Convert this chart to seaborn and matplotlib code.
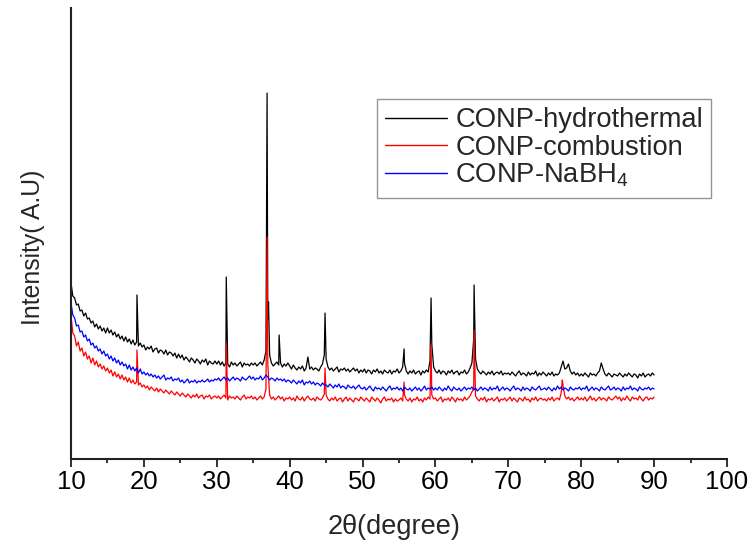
import numpy as np
import pandas as pd
import matplotlib
matplotlib.use("Agg")
import matplotlib.pyplot as plt
import seaborn as sns
from matplotlib.ticker import MultipleLocator

# ---- data (intensity in arbitrary units) ----
samples = ["CONP-hydrothermal", "CONP-combustion", "CONP-NaBH$_4$"]
colors = ["#000000", "#ff0000", "#0000ff"]

scan_start = 10.0
scan_step = 0.25   # degrees between recorded points, 10..90

hydro_scan = [
    176,163,161,154,155,148,149,143,146,140,141,136,138,132,135,130,133,128,131,126,
    131,126,129,124,127,122,125,120,123,118,122,117,120,115,119,114,117,113,116,112,
    114,109,112,110,113,107,110,111,106,109,108,105,109,104,107,106,103,106,101,105,
    101,104,99,102,100,97,101,99,96,100,98,95,99,97,100,94,98,96,95,98,
    95,98,94,97,93,96,95,92,97,94,96,93,95,97,92,96,94,95,93,96,
    94,96,93,95,97,94,99,108,140,104,96,93,95,97,94,96,92,95,93,96,
    93,90,94,91,89,92,90,93,88,91,102,90,92,89,91,90,88,92,95,104,
    100,92,89,91,88,90,92,87,90,89,91,88,90,87,89,91,88,90,86,89,
    87,90,86,89,88,85,89,87,90,86,88,85,89,87,86,89,85,88,87,90,
    86,88,92,96,88,85,88,86,89,85,87,88,84,88,86,89,87,98,115,92,
    88,86,89,85,88,87,84,88,86,89,85,87,88,84,87,86,89,85,87,91,
    96,120,100,90,87,85,88,86,84,87,85,88,84,86,87,85,88,84,86,85,
    86,84,87,85,83,86,88,84,86,85,83,87,84,86,85,88,83,86,84,87,
    85,83,86,84,87,83,85,84,86,92,98,90,91,95,88,85,87,84,86,83,
    85,83,86,84,82,86,84,85,83,86,88,96,90,85,83,86,84,82,85,84,
    83,86,84,82,85,83,86,84,82,85,84,81,85,83,86,82,84,85,83,86,
    84,
]
hydro_peak_pos = [19.05, 31.3, 36.9, 37.1, 38.55, 44.85, 55.7, 59.4, 65.3]
hydro_peak_int = [164, 182, 366, 157, 124, 146, 110, 161, 174]

comb_scan = [
    143,126,123,113,117,108,111,103,107,100,103,96,101,94,98,92,95,90,93,88,
    91,86,89,83,87,82,85,80,84,79,82,77,81,76,79,75,77,74,76,72,
    74,71,73,69,72,70,68,71,67,70,68,66,69,67,65,68,66,64,67,65,
    63,66,64,62,65,63,61,64,62,65,61,63,64,60,63,62,64,60,62,63,
    61,63,60,62,64,61,59,63,61,62,60,63,61,59,62,64,60,62,61,63,
    60,62,59,61,63,60,62,70,95,64,60,62,59,61,63,60,62,58,61,60,
    62,59,61,58,63,60,59,62,58,61,63,60,59,61,58,62,60,59,61,65,
    64,60,58,61,59,62,58,60,61,57,60,62,58,61,59,57,61,60,58,62,
    60,58,61,59,57,62,60,58,61,59,56,60,62,58,60,59,61,57,60,58,
    59,61,58,64,60,58,61,57,60,59,62,58,60,57,61,59,62,60,64,60,
    61,58,60,62,57,60,59,61,58,62,60,57,61,59,60,58,62,59,61,63,
    67,70,63,60,58,61,59,62,57,60,59,61,58,60,62,57,60,59,61,58,
    60,62,58,61,59,57,61,60,58,62,59,60,57,61,59,62,58,60,61,59,
    60,58,61,59,62,58,60,61,59,66,74,63,60,62,59,61,58,60,62,59,
    61,59,62,58,60,63,59,61,58,60,62,59,61,60,58,62,60,59,61,63,
    60,62,58,61,59,63,60,58,62,60,61,59,63,60,58,61,62,59,61,60,
    62,
]
comb_peak_pos = [19.05, 31.3, 36.9, 44.85, 55.7, 59.4, 65.3, 77.4]
comb_peak_int = [109, 116, 222, 91, 77, 114, 129, 79]

nabh4_scan = [
    156,144,141,133,134,127,128,122,124,118,120,114,116,111,113,108,110,105,108,103,
    105,100,103,98,101,96,99,94,97,93,95,90,94,89,92,88,91,86,90,85,
    87,84,86,83,85,82,84,81,83,80,82,84,79,81,80,82,78,80,79,81,
    77,79,76,78,80,76,78,77,79,76,78,77,79,77,78,80,77,79,78,80,
    79,81,78,80,82,79,81,78,80,82,79,81,80,78,82,80,79,81,83,80,
    82,79,81,80,83,79,81,84,82,79,81,80,78,81,79,80,78,80,77,79,
    78,76,79,77,75,78,76,79,74,77,76,78,75,77,74,76,75,73,76,74,
    74,72,75,73,71,74,72,75,71,73,72,70,74,72,71,73,70,72,74,71,
    70,72,69,71,73,70,68,72,70,71,69,72,70,68,71,73,69,71,70,72,
    69,71,68,72,70,69,71,68,70,72,69,71,68,70,73,69,71,70,72,69,
    71,69,72,70,68,71,69,73,70,68,72,70,69,71,68,70,72,69,71,70,
    72,69,71,68,70,72,69,71,70,68,72,69,71,70,73,68,70,72,69,71,
    70,68,71,73,69,71,70,68,72,69,71,70,68,72,70,69,71,73,69,70,
    71,69,72,70,68,71,69,73,70,72,69,71,70,68,72,70,69,71,70,72,
    69,71,70,73,68,70,72,69,71,70,68,72,70,69,71,73,69,70,72,69,
    71,70,68,72,69,71,70,73,69,71,70,68,72,70,69,71,70,72,69,71,
    70,
]
nabh4_peak_pos = []
nabh4_peak_int = []

x_ticks = [10, 20, 30, 40, 50, 60, 70, 80, 90, 100]


def build(name, scan, ppos, pint):
    x = np.round(scan_start + scan_step * np.arange(len(scan)), 3)
    d1 = pd.DataFrame({"two_theta": x, "intensity": scan})
    d2 = pd.DataFrame({"two_theta": ppos, "intensity": pint})
    d = pd.concat([d1, d2], ignore_index=True).sort_values("two_theta")
    d["sample"] = name
    return d


df = pd.concat([
    build(samples[0], hydro_scan, hydro_peak_pos, hydro_peak_int),
    build(samples[1], comb_scan, comb_peak_pos, comb_peak_int),
    build(samples[2], nabh4_scan, nabh4_peak_pos, nabh4_peak_int),
], ignore_index=True)

# ---- style ----
sns.set_style("ticks")
plt.rcParams["font.family"] = ["Liberation Sans", "DejaVu Sans"]
plt.rcParams["mathtext.fontset"] = "custom"
plt.rcParams["mathtext.rm"] = "Liberation Sans"
plt.rcParams["mathtext.default"] = "regular"

fig = plt.figure(figsize=(7.56, 5.55), dpi=100)
ax = fig.add_axes([71 / 756, 96 / 555, 656 / 756, 451 / 555])

sns.lineplot(data=df, x="two_theta", y="intensity", hue="sample",
             hue_order=samples, palette=colors, estimator=None,
             sort=True, linewidth=0.9, ax=ax)

ax.set_xlim(10, 100)
ax.set_ylim(0, 451)
ax.set_xticks(x_ticks)
ax.set_xticklabels([str(t) for t in x_ticks], fontsize=18.5)
ax.xaxis.set_minor_locator(MultipleLocator(5))
ax.tick_params(axis="x", which="major", length=5.5, width=1.3, pad=2.5,
               direction="out", colors="#222222", labelcolor="black")
ax.tick_params(axis="x", which="minor", length=3, width=1.3,
               direction="out", colors="#222222")
ax.set_yticks([])

for s in ["top", "right"]:
    ax.spines[s].set_visible(False)
for s in ["left", "bottom"]:
    ax.spines[s].set_linewidth(1.5)
    ax.spines[s].set_color("#222222")

ax.set_xlabel("2\u03b8(degree)", fontsize=19.5)
ax.set_ylabel("Intensity( A.U)", fontsize=17.8)
ax.xaxis.set_label_coords((394 - 71) / 656, (459 - 514) / 451)
ax.yaxis.set_label_coords((45 - 71) / 656, (459 - 247) / 451)

handles, labels = ax.get_legend_handles_labels()
for h in handles:
    h.set_linewidth(1.0)
leg = ax.legend(handles, labels, loc="upper left",
                bbox_to_anchor=(377 / 756, 1 - 99 / 555),
                bbox_transform=fig.transFigure,
                fontsize=19.7, frameon=True, fancybox=False,
                handlelength=2.26, handletextpad=0.3,
                labelspacing=0.05, borderpad=0.3, borderaxespad=0)
leg.get_frame().set_edgecolor("#7a7a7a")
leg.get_frame().set_linewidth(1.0)

fig.savefig("out.png", dpi=100)
